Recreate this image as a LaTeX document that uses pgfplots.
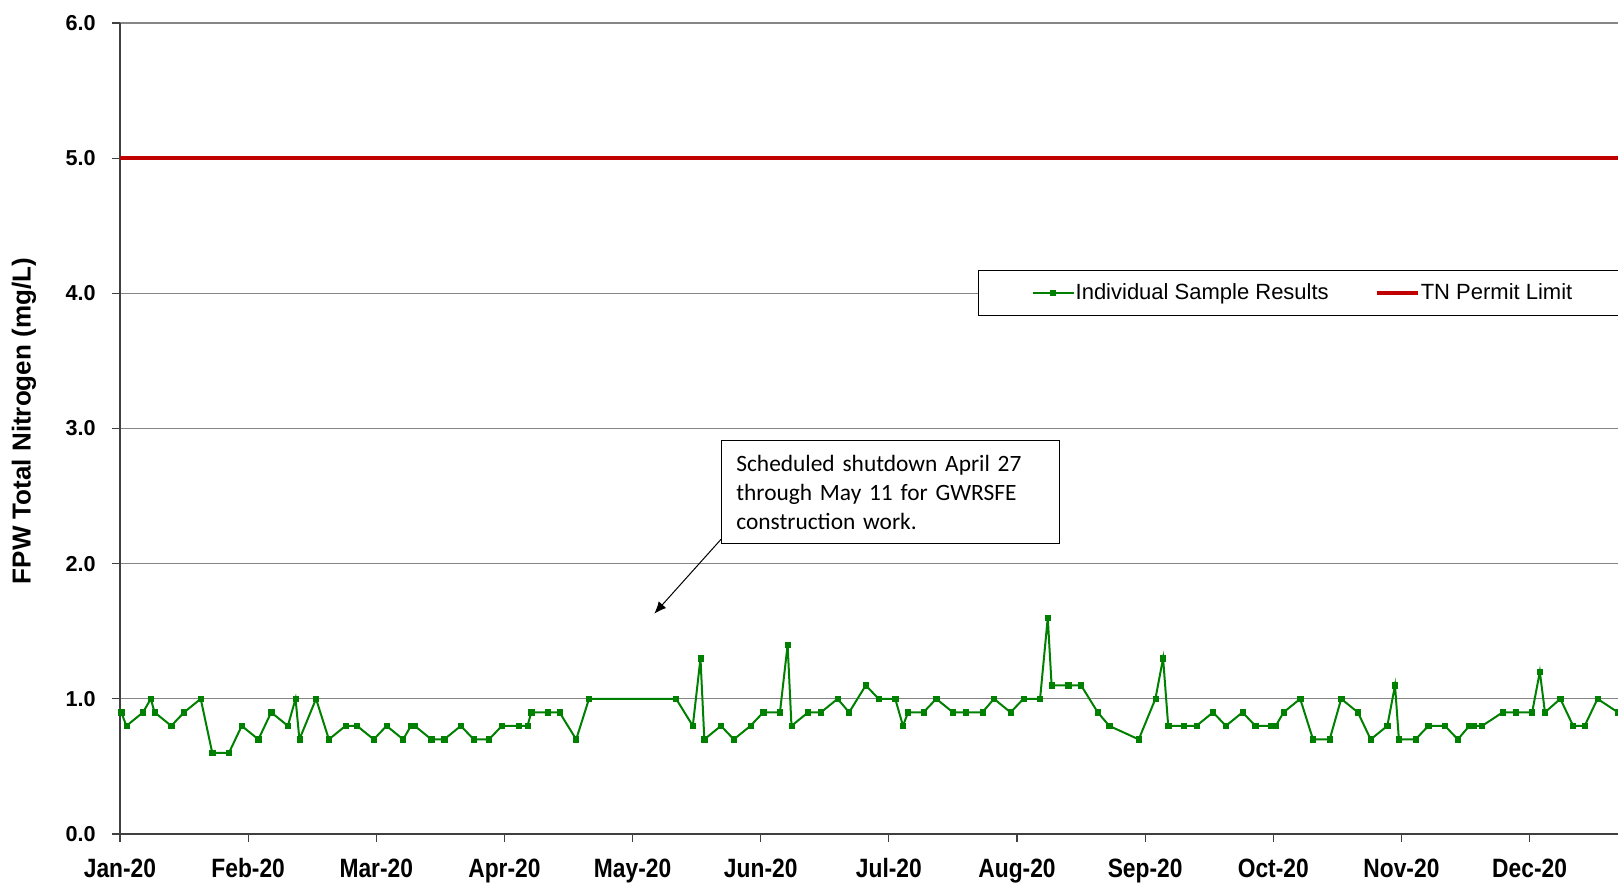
\documentclass[border=0pt]{standalone}
\usepackage{fontspec}
\setmainfont{Liberation Sans}
\newfontfamily\narrowsans[FakeStretch=0.86]{Liberation Sans}
\newfontfamily\calibri{Carlito}
\usepackage{pgfplots}
\usepackage{pgfplotstable}
\pgfplotsset{compat=1.18}
\usetikzlibrary{arrows.meta}
\definecolor{limitred}{RGB}{192,0,0}
\definecolor{samplegreen}{RGB}{0,128,0}
\definecolor{gridgray}{RGB}{134,134,134}
\definecolor{axisgray}{RGB}{64,64,64}

\pgfplotstableread{
x y
0.01 0.9
0.05 0.8
0.18 0.9
0.24 1.0
0.27 0.9
0.40 0.8
0.50 0.9
0.63 1.0
0.72 0.6
0.85 0.6
0.95 0.8
1.08 0.7
1.18 0.9
1.31 0.8
1.37 1.0
1.40 0.7
1.53 1.0
1.63 0.7
1.76 0.8
1.85 0.8
1.98 0.7
2.08 0.8
2.21 0.7
2.27 0.8
2.30 0.8
2.43 0.7
2.53 0.7
2.66 0.8
2.76 0.7
2.88 0.7
2.98 0.8
3.11 0.8
3.18 0.8
3.21 0.9
3.34 0.9
3.43 0.9
3.56 0.7
3.66 1.0
4.34 1.0
4.47 0.8
4.53 1.3
4.56 0.7
4.69 0.8
4.79 0.7
4.92 0.8
5.02 0.9
5.15 0.9
5.21 1.4
5.24 0.8
5.37 0.9
5.47 0.9
5.60 1.0
5.69 0.9
5.82 1.1
5.92 1.0
6.05 1.0
6.11 0.8
6.15 0.9
6.27 0.9
6.37 1.0
6.50 0.9
6.60 0.9
6.73 0.9
6.82 1.0
6.95 0.9
7.05 1.0
7.18 1.0
7.24 1.6
7.27 1.1
7.40 1.1
7.50 1.1
7.63 0.9
7.72 0.8
7.95 0.7
8.08 1.0
8.14 1.3
8.18 0.8
8.30 0.8
8.40 0.8
8.53 0.9
8.63 0.8
8.76 0.9
8.86 0.8
8.98 0.8
9.02 0.8
9.08 0.9
9.21 1.0
9.31 0.7
9.44 0.7
9.53 1.0
9.66 0.9
9.76 0.7
9.89 0.8
9.95 1.1
9.98 0.7
10.11 0.7
10.21 0.8
10.34 0.8
10.44 0.7
10.53 0.8
10.56 0.8
10.63 0.8
10.79 0.9
10.89 0.9
11.02 0.9
11.08 1.2
11.12 0.9
11.24 1.0
11.34 0.8
11.43 0.8
11.53 1.0
11.69 0.9
}\sampletable

\begin{document}
\begin{tikzpicture}
\begin{axis}[
  at={(60pt,25.5pt)}, anchor=south west,
  scale only axis, width=749pt, height=405.5pt,
  xmin=0, xmax=11.69, ymin=0, ymax=6,
  axis x line*=bottom, axis y line*=left,
  axis line style={axisgray, line width=0.6pt, -},
  xtick={0,1,2,3,4,5,6,7,8,9,10,11},
  xticklabels={Jan-20,Feb-20,Mar-20,Apr-20,May-20,Jun-20,Jul-20,Aug-20,Sep-20,Oct-20,Nov-20,Dec-20},
  ytick={0,1,2,3,4,5,6},
  yticklabels={0.0,1.0,2.0,3.0,4.0,5.0,6.0},
  tick align=outside, major tick length=4pt,
  tick style={axisgray, line width=0.6pt},
  ymajorgrids, grid style={gridgray, line width=0.6pt},
  xticklabel style={font=\narrowsans\bfseries\fontsize{13.25}{14}\selectfont, anchor=base, yshift=-17.9pt},
  yticklabel style={font=\bfseries\fontsize{10.8}{13}\selectfont, anchor=east, xshift=-4.7pt},
  ylabel={FPW Total Nitrogen (mg/L)},
  ylabel style={at={(axis description cs:-0.0642,0.509)}, anchor=center, font=\bfseries\fontsize{13}{15}\selectfont},
  legend columns=2,
  legend style={at={(axis description cs:0.5728,0.6954)}, anchor=north west, draw=black, line width=0.6pt,
    fill=white, inner xsep=26.5pt, inner ysep=6pt, font=\fontsize{11}{13}\selectfont,
    nodes={inner sep=0.5pt}, column sep=0pt,
    /tikz/every even column/.append style={column sep=22.5pt}},
  legend image code/.code={\draw[mark repeat=2,mark phase=2,#1] plot coordinates {(0pt,0pt)(10.25pt,0pt)(20.5pt,0pt)};},
  clip mode=individual,
]
\addplot[samplegreen, line width=1pt, mark=square*, mark size=1.3pt, mark options={solid, fill=samplegreen, line width=0.3pt}] table[x=x,y=y] {\sampletable};
\addlegendentry{Individual Sample Results}
\addplot[limitred, line width=2pt] coordinates {(0,5) (11.69,5)};
\addlegendentry{TN Permit Limit}

\node[draw=black, line width=0.6pt, fill=white, anchor=north west, text width=154pt, inner xsep=7.5pt, inner ysep=4pt,
  align=left, font=\calibri\fontsize{11.7}{14.5}\selectfont, minimum height=51.5pt] at (axis cs:4.688,2.914)
  {Scheduled shutdown April 27\\through May 11 for GWRSFE\\construction work.};
\draw[black, line width=0.5pt, -{Latex[length=6pt,width=5pt]}] (axis cs:4.69,2.18) -- (axis cs:4.17,1.63);
\end{axis}
\pgfresetboundingbox
\useasboundingbox (0,0) rectangle (809pt,442.5pt);
\end{tikzpicture}
\end{document}
